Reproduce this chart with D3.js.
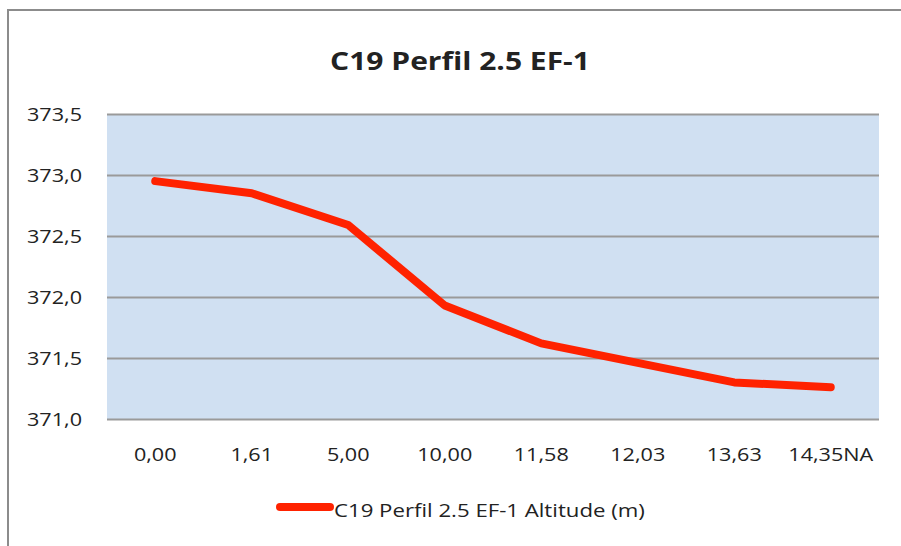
<!DOCTYPE html>
<html>
<head>
<meta charset="utf-8">
<script src="https://cdn.jsdelivr.net/npm/d3@7"></script>
<style>
  body { margin: 0; background: #fff; }
  text { font-family: "Open Sans", "DejaVu Sans", sans-serif; fill: #222; }
</style>
</head>
<body>
<div class="chart"></div>
<script>
// C19 Perfil 2.5 EF-1 - altitude profile

var svgWidth = 901;
var svgHeight = 546;

var margin = { top: 114, right: 22, bottom: 127, left: 107 };

var width = svgWidth - margin.left - margin.right;
var height = svgHeight - margin.top - margin.bottom;

// the original picture is stretched sideways, so text is widened to match
var stretch = 1.2;

// data
var categories = ["0,00", "1,61", "5,00", "10,00", "11,58", "12,03", "13,63", "14,35NA"];
var altitude = [372.95, 372.85, 372.59, 371.93, 371.62, 371.46, 371.30, 371.26];
var yTicks = [371.0, 371.5, 372.0, 372.5, 373.0, 373.5];
var seriesName = "C19 Perfil 2.5 EF-1 Altitude (m)";
var title = "C19 Perfil 2.5 EF-1";

var svg = d3.select(".chart")
  .append("svg")
  .attr("width", svgWidth)
  .attr("height", svgHeight);

// outer chart frame
svg.append("rect")
  .attr("x", 8)
  .attr("y", 10)
  .attr("width", 900)
  .attr("height", 600)
  .attr("fill", "none")
  .attr("stroke", "#8c8c8c")
  .attr("stroke-width", 2);

var chart = svg.append("g")
  .attr("transform", "translate(" + margin.left + "," + margin.top + ")");

var xScale = d3.scaleBand()
  .domain(categories)
  .range([0, width]);

var yScale = d3.scaleLinear()
  .domain([371, 373.5])
  .range([height, 0]);

// plot background
chart.append("rect")
  .attr("width", width)
  .attr("height", height)
  .attr("fill", "#d0e0f2");

// grid lines + y labels
var leftAxis = d3.axisLeft(yScale)
  .tickValues(yTicks)
  .tickSize(-width)
  .tickFormat(function(d) { return d3.format(".1f")(d).replace(".", ","); });

var yAxis = chart.append("g").call(leftAxis);
yAxis.select(".domain").remove();
yAxis.selectAll("line")
  .attr("stroke", "#9a9a9a")
  .attr("stroke-width", 2);
yAxis.selectAll("text")
  .attr("x", -25 / stretch)
  .attr("dy", "0.35em")
  .attr("transform", "scale(" + stretch + ",1)")
  .style("font-size", "18px")
  .attr("fill", "#222");

var bottomAxis = d3.axisBottom(xScale).tickSize(0);
var xAxis = chart.append("g")
  .attr("transform", "translate(0," + height + ")")
  .call(bottomAxis);
xAxis.select(".domain").remove();
xAxis.selectAll("text")
  .attr("y", 29)
  .attr("dy", "0.71em")
  .attr("transform", "scale(" + stretch + ",1)")
  .style("font-size", "18px")
  .attr("fill", "#222");

// the line
var line = d3.line()
  .x(function(d, i) { return xScale(categories[i]) + xScale.bandwidth() / 2; })
  .y(function(d) { return yScale(d); });

chart.append("path")
  .datum(altitude)
  .attr("d", line)
  .attr("fill", "none")
  .attr("stroke", "#ff2200")
  .attr("stroke-width", 8)
  .attr("stroke-linecap", "round")
  .attr("stroke-linejoin", "round");

// title
svg.append("text")
  .attr("transform", "translate(460,70) scale(" + stretch + ",1)")
  .attr("text-anchor", "middle")
  .style("font-size", "25px")
  .style("font-weight", "bold")
  .text(title);

// legend
svg.append("line")
  .attr("x1", 280)
  .attr("x2", 330)
  .attr("y1", 507)
  .attr("y2", 507)
  .attr("stroke", "#ff2200")
  .attr("stroke-width", 8)
  .attr("stroke-linecap", "round");

svg.append("text")
  .attr("transform", "translate(334,517) scale(" + stretch + ",1)")
  .style("font-size", "18.5px")
  .text(seriesName);
</script>
</body>
</html>
